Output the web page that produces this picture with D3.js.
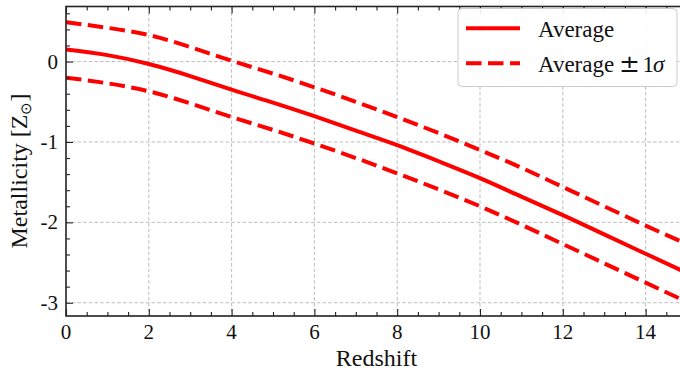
<!DOCTYPE html>
<html>
<head>
<meta charset="utf-8">
<script src="https://cdn.jsdelivr.net/npm/d3@7"></script>
<style>
  html, body { margin: 0; padding: 0; background: #fff; }
  svg { display: block; }
  text { font-family: "Liberation Serif", "Times New Roman", serif; fill: #111; }
</style>
</head>
<body>
<svg id="chart" width="680" height="372"></svg>
<script>
// Redshift grid (z) and metallicity values, log10(Z / Z_sun)
const redshift = [0, 1, 2, 3, 4, 5, 6, 7, 8, 9, 10, 11, 12, 13, 14, 15];
const average  = [0.15, 0.08, -0.03, -0.18, -0.35, -0.51, -0.68, -0.86, -1.04, -1.24, -1.45, -1.68, -1.91, -2.15, -2.39, -2.63];
const upper    = [0.49, 0.42, 0.33, 0.18, 0.01, -0.15, -0.32, -0.50, -0.69, -0.89, -1.10, -1.32, -1.56, -1.80, -2.04, -2.27];
const lower    = [-0.20, -0.27, -0.37, -0.52, -0.69, -0.85, -1.02, -1.20, -1.39, -1.59, -1.80, -2.03, -2.27, -2.51, -2.75, -2.99];

const xTicks = [0, 2, 4, 6, 8, 10, 12, 14];
const yTicks = [-3, -2, -1, 0];
const xDomain = [0, 15];
const yDomain = [-3.165, 0.685];

const svg = d3.select("#chart");
const pLeft = 66, pRight = 687, pTop = 6.5, pBottom = 316;

const x = d3.scaleLinear().domain(xDomain).range([pLeft, pRight]);
const y = d3.scaleLinear().domain(yDomain).range([pBottom, pTop]);

// minor tick positions
const xMinor = d3.range(0, 15.01, 0.5).filter(v => !xTicks.includes(v));
const yMinor = d3.range(-3.2, 0.7, 0.2).map(v => +v.toFixed(1))
  .filter(v => v >= yDomain[0] && v <= yDomain[1] && !yTicks.includes(v));

svg.append("defs").append("clipPath").attr("id", "plot")
  .append("rect").attr("x", pLeft).attr("y", pTop)
  .attr("width", pRight - pLeft).attr("height", pBottom - pTop);

// dashed grid at major ticks
const grid = svg.append("g").attr("stroke", "#bdbdbd").attr("stroke-width", 1)
  .attr("stroke-dasharray", "3.5,2.2");
grid.selectAll(".gx").data(xTicks.filter(v => v > 0)).join("line")
  .attr("x1", d => x(d)).attr("x2", d => x(d)).attr("y1", pTop).attr("y2", pBottom);
grid.selectAll(".gy").data(yTicks).join("line")
  .attr("y1", d => y(d)).attr("y2", d => y(d)).attr("x1", pLeft).attr("x2", pRight);

// curves
const line = d3.line().x(d => x(d[0])).y(d => y(d[1])).curve(d3.curveNatural);
const curves = svg.append("g").attr("clip-path", "url(#plot)").attr("fill", "none")
  .attr("stroke", "#ff0000").attr("stroke-width", 4);
curves.append("path").attr("d", line(d3.zip(redshift, upper))).attr("stroke-dasharray", "15.5,6.5");
curves.append("path").attr("d", line(d3.zip(redshift, lower))).attr("stroke-dasharray", "15.5,6.5");
curves.append("path").attr("d", line(d3.zip(redshift, average)));

// axes with inward ticks on all four sides
function inward(axis, len) { return axis.tickSize(-len).tickFormat(""); }
const frame = svg.append("g").attr("class", "frame");
frame.append("g").attr("transform", `translate(0,${pBottom})`)
  .call(inward(d3.axisBottom(x).tickValues(xTicks), 7));
frame.append("g").attr("transform", `translate(0,${pBottom})`)
  .call(inward(d3.axisBottom(x).tickValues(xMinor), 4));
frame.append("g").attr("transform", `translate(0,${pTop})`)
  .call(inward(d3.axisTop(x).tickValues(xTicks), 7));
frame.append("g").attr("transform", `translate(0,${pTop})`)
  .call(inward(d3.axisTop(x).tickValues(xMinor), 4));
frame.append("g").attr("transform", `translate(${pLeft},0)`)
  .call(inward(d3.axisLeft(y).tickValues(yTicks), 7));
frame.append("g").attr("transform", `translate(${pLeft},0)`)
  .call(inward(d3.axisLeft(y).tickValues(yMinor), 4));
frame.append("g").attr("transform", `translate(${pRight},0)`)
  .call(inward(d3.axisRight(y).tickValues(yTicks), 7));
frame.append("g").attr("transform", `translate(${pRight},0)`)
  .call(inward(d3.axisRight(y).tickValues(yMinor), 4));
frame.selectAll(".domain").remove();
frame.selectAll(".tick line").attr("stroke", "#222").attr("stroke-width", 1.1);
svg.append("rect").attr("x", pLeft).attr("y", pTop)
  .attr("width", pRight - pLeft).attr("height", pBottom - pTop)
  .attr("fill", "none").attr("stroke", "#222").attr("stroke-width", 1.6);

// tick labels
svg.append("g").selectAll("text").data(xTicks).join("text")
  .attr("x", d => x(d)).attr("y", 339).attr("text-anchor", "middle")
  .attr("font-size", 21).text(d => d);
svg.append("g").selectAll("text").data(yTicks).join("text")
  .attr("x", 58).attr("y", d => y(d)).attr("dy", "0.34em").attr("text-anchor", "end")
  .attr("font-size", 21).text(d => d);

// axis titles
svg.append("text").attr("x", (pLeft + pRight) / 2).attr("y", 366)
  .attr("text-anchor", "middle").attr("font-size", 24).text("Redshift");
const yt = svg.append("text").attr("transform", "translate(27,171) rotate(-90)")
  .attr("text-anchor", "middle").attr("font-size", 24);
yt.append("tspan").text("Metallicity [Z");
yt.append("tspan").attr("font-size", 15).attr("dy", 4).text("\u2299");
yt.append("tspan").attr("dy", -4).text("]");

// legend
const lg = svg.append("g");
lg.append("rect").attr("x", 458).attr("y", 8.5).attr("width", 219).attr("height", 78)
  .attr("rx", 4).attr("fill", "#fff").attr("fill-opacity", 0.9)
  .attr("stroke", "#cccccc").attr("stroke-width", 1);
const legendRows = [
  { label: "Average", dash: null, cy: 28.3, base: 36.8 },
  { label: "Average", dash: "15.5,6.5", cy: 63.3, base: 71.7, sigma: true }
];
legendRows.forEach(e => {
  lg.append("line").attr("x1", 466).attr("x2", 520).attr("y1", e.cy).attr("y2", e.cy)
    .attr("stroke", "#ff0000").attr("stroke-width", 4)
    .attr("stroke-dasharray", e.dash);
  const t = lg.append("text").attr("x", 538).attr("y", e.base).attr("font-size", 23);
  t.append("tspan").text(e.label);
  if (e.sigma) {
    t.append("tspan").attr("x", 619).attr("font-family", "DejaVu Serif")
      .attr("font-size", 25).text("\u00B1");
    t.append("tspan").attr("x", 642.5).text("1");
    t.append("tspan").attr("x", 653).attr("font-style", "italic").text("\u03C3");
  }
});
</script>
</body>
</html>
